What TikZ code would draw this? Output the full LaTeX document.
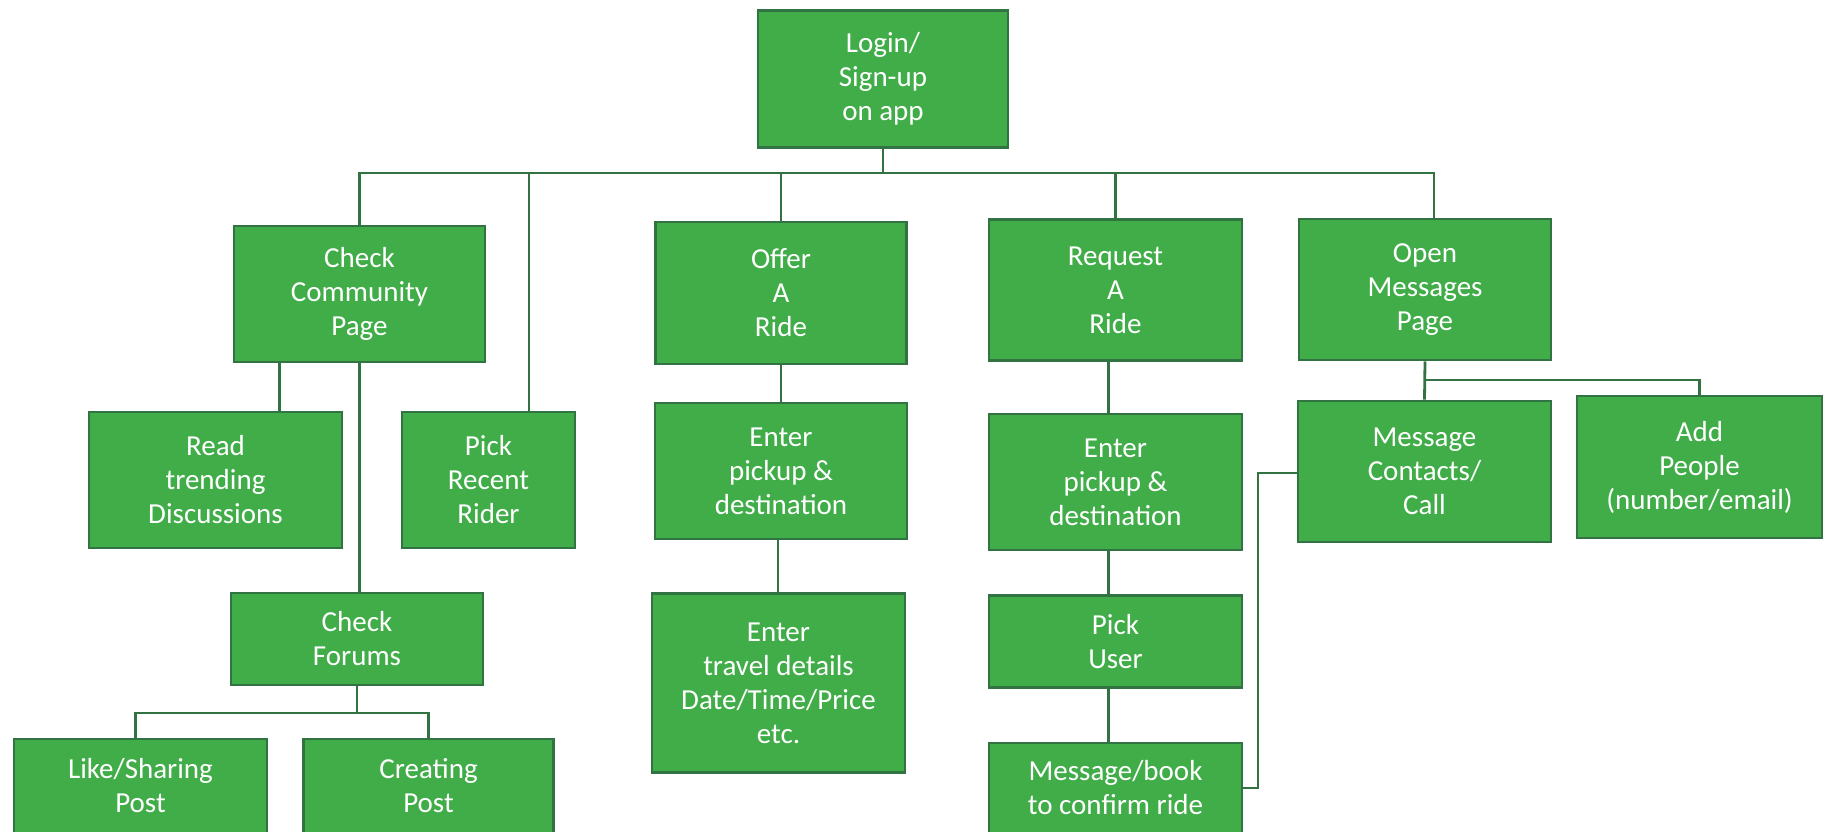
\documentclass[tikz,border=0pt]{standalone}
\usepackage{fontspec}
\setmainfont{Carlito}
\usepackage{tikz}
\usetikzlibrary{calc}

\definecolor{boxgreen}{RGB}{65,173,73}
\definecolor{edgegreen}{RGB}{50,115,68}

\tikzset{
    box/.style={draw=edgegreen, line width=2.8pt, fill=boxgreen, text=white,
        align=center, inner sep=0pt, font=\fontsize{29}{34}\selectfont},
    link/.style={draw=edgegreen, line width=2.8pt}
}

\begin{document}
\begin{tikzpicture}[x=1pt, y=-1pt]
    \useasboundingbox (0,0) rectangle (1823,832);

    % Top
    \node[box, minimum width=250, minimum height=137] (login) at (883,79) {Login/\\Sign-up\\on app};

    % First row
    \node[box, minimum width=251, minimum height=136] (comm) at (359.5,294) {Check\\Community\\Page};
    \node[box, minimum width=251, minimum height=142] (offer) at (781,293) {Offer\\A\\Ride};
    \node[box, minimum width=253, minimum height=141] (request) at (1115.5,290) {Request\\A\\Ride};
    \node[box, minimum width=252, minimum height=141] (openmsg) at (1425,289.5) {Open\\Messages\\Page};

    % Second row
    \node[box, minimum width=253, minimum height=136] (read) at (215.5,480) {Read\\trending\\Discussions};
    \node[box, minimum width=173, minimum height=136] (pick) at (488.5,480) {Pick\\Recent\\Rider};
    \node[box, minimum width=252, minimum height=136] (offerenter) at (781,471) {Enter\\pickup \&\\destination};
    \node[box, minimum width=253, minimum height=136] (reqenter) at (1115.5,482) {Enter\\pickup \&\\destination};
    \node[box, minimum width=253, minimum height=141] (contacts) at (1424.5,471.5) {Message\\Contacts/\\Call};
    \node[box, minimum width=245, minimum height=142] (addpeople) at (1699.5,467) {Add\\People\\(number/email)};

    % Third row
    \node[box, minimum width=252, minimum height=92] (forums) at (357,639) {Check\\Forums};
    \node[box, minimum width=253, minimum height=179] (travel) at (778.5,683) {Enter\\travel details\\Date/Time/Price\\etc.};
    \node[box, minimum width=253, minimum height=92] (pickuser) at (1115.5,641.5) {Pick\\User};

    % Bottom row
    \node[box, minimum width=253, minimum height=94] (like) at (140.5,786) {Like/Sharing\\Post};
    \node[box, minimum width=250, minimum height=94] (creating) at (428.5,786) {Creating\\Post};
    \node[box, minimum width=253, minimum height=90] (msgbook) at (1115.5,788) {Message/book\\to confirm ride};

    % Bus under login
    \coordinate (bus) at (883,173);
    \coordinate (pickdrop) at (529,173);
    \draw[link] (login.south) -- (bus);
    \draw[link] (comm.north) -- (comm.north |- bus) -- ([xshift=9pt]openmsg.north |- bus) -- ([xshift=9pt]openmsg.north);
    \draw[link] (offer.north) -- (offer.north |- bus);
    \draw[link] (request.north) -- (request.north |- bus);
    \draw[link] (pickdrop) -- (pickdrop |- pick.north);

    % Community branch
    \draw[link] ([xshift=-80pt]comm.south) -- ([xshift=-80pt]comm.south |- read.north);
    \draw[link] (comm.south) -- (comm.south |- forums.north);
    \coordinate (fbus) at (356,713);
    \draw[link] (forums.south) -- (forums.south |- fbus);
    \draw[link] ([xshift=-5pt]like.north) -- ([xshift=-5pt]like.north |- fbus) -- (creating.north |- fbus) -- (creating.north);

    % Offer branch
    \draw[link] (offer.south) -- (offerenter.north);
    \draw[link] ([xshift=-3pt]offerenter.south) -- ([xshift=-3pt]offerenter.south |- travel.north);

    % Request branch
    \draw[link] ([xshift=-7pt]request.south) -- ([xshift=-7pt]reqenter.north);
    \draw[link] ([xshift=-7pt]reqenter.south) -- ([xshift=-7pt]pickuser.north);
    \draw[link] ([xshift=-7pt]pickuser.south) -- ([xshift=-7pt]msgbook.north);

    % Messages branch
    \coordinate (mbus) at (1425,380);
    \coordinate (elbow) at (1258,473);
    \draw[link] (openmsg.south) -- (contacts.north);
    \draw[link] (openmsg.south |- mbus) -| (addpeople.north);
    \draw[link] (msgbook.east) -| (elbow) -- (elbow -| contacts.west);
\end{tikzpicture}
\end{document}
